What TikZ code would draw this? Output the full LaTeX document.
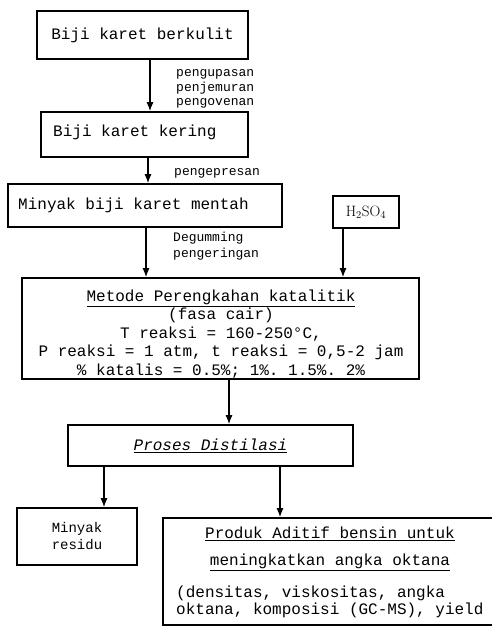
\documentclass[tikz,border=0pt]{standalone}
\usepackage{fontspec}
\setmonofont{Liberation Mono}
\usetikzlibrary{arrows.meta}

\begin{document}
\begin{tikzpicture}[
  x=1pt, y=-1pt,
  box/.style={draw, line width=1.6pt, inner sep=0pt, font=\ttfamily\fontsize{16}{18.5}\selectfont},
  txt/.style={inner sep=0pt, font=\ttfamily\fontsize{16}{18.5}\selectfont},
  lbl/.style={anchor=west, inner sep=0pt, align=left, font=\ttfamily\fontsize{13}{14.5}\selectfont},
  arr/.style={-{Latex[length=9pt,width=7pt]}, line width=1.2pt}
]
  \useasboundingbox (0,0) rectangle (491,631);
  \node[box, minimum width=211pt, minimum height=48pt] (b1) at (142.5,35) {Biji karet berkulit};
  \node[box, minimum width=207pt, minimum height=45pt] (b2) at (144.5,134.5) {};
  \node[txt, anchor=west] (t2) at (53,132) {Biji karet kering};
  \node[box, minimum width=274pt, minimum height=43pt] (b3) at (145,205.5) {};
  \node[txt, anchor=west] (t3) at (18,205) {Minyak biji karet mentah};
  \node[box, minimum width=66pt, minimum height=32pt, font=\rmfamily\fontsize{15}{17}\selectfont] (acid) at (366,212) {H\textsubscript{2}SO\textsubscript{4}};
  \node[box, minimum width=397pt, minimum height=101pt] (b4) at (220.5,328.5) {};
  \node[txt, align=center] (t4) at (221,334) {\underline{Metode Perengkahan katalitik}\\(fasa cair)\\T reaksi = 160-250°C,\\P reaksi = 1 atm, t reaksi = 0,5-2 jam\\\% katalis = 0.5\%; 1\%. 1.5\%. 2\%};
  \node[box, minimum width=285pt, minimum height=41pt] (b5) at (210.5,445.5) {\underline{\textit{Proses Distilasi}}};
  \node[box, minimum width=120pt, minimum height=57pt, align=center, font=\ttfamily\fontsize{14}{17}\selectfont] (b6) at (77,536.5) {Minyak\\residu};
  \node[box, minimum width=334pt, minimum height=107pt] (b7) at (330,571.5) {};
  \node[txt, align=center, font=\ttfamily\fontsize{16}{27}\selectfont] (t7a) at (330,549) {\underline{Produk Aditif bensin untuk}\\\underline{meningkatkan angka oktana}};
  \node[txt, anchor=west, align=left, font=\ttfamily\fontsize{16}{17}\selectfont] (t7b) at (176,602) {(densitas, viskositas, angka\\oktana, komposisi (GC-MS), yield};
  \node[lbl] (l1) at (176,89) {pengupasan\\penjemuran\\pengovenan};
  \node[lbl] (l2) at (174,173) {pengepresan};
  \node[lbl, font=\ttfamily\fontsize{13}{16}\selectfont] (l3) at (173,246) {Degumming\\pengeringan};
  \draw[arr] ([xshift=7.5pt]b1.south) -- ([xshift=7.5pt]b1.south |- b2.north);
  \draw[arr] ([xshift=3.5pt]b2.south) -- ([xshift=3.5pt]b2.south |- b3.north);
  \draw[arr] ([xshift=1pt]b3.south) -- ([xshift=1pt]b3.south |- b4.north);
  \draw[arr] ([xshift=-23pt]acid.south) -- ([xshift=-23pt]acid.south |- b4.north);
  \draw[arr] ([xshift=8.5pt]b4.south) -- ([xshift=8.5pt]b4.south |- b5.north);
  \draw[arr] ([xshift=-106.5pt]b5.south) -- ([xshift=-106.5pt]b5.south |- b6.north);
  \draw[arr] ([xshift=69.5pt]b5.south) -- ([xshift=69.5pt]b5.south |- b7.north);
\end{tikzpicture}
\end{document}
